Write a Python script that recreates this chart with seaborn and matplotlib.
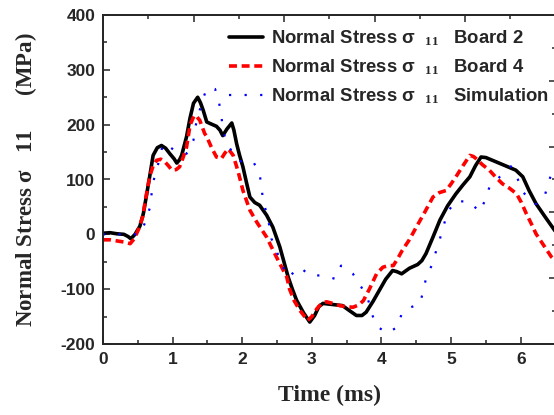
import numpy as np
import pandas as pd
import matplotlib
matplotlib.use("Agg")
import matplotlib.pyplot as plt
from matplotlib.ticker import MultipleLocator, NullFormatter, FixedLocator
import seaborn as sns

# ---------------- data ----------------
t_board2 = [0, 0.1, 0.2, 0.3, 0.36, 0.4, 0.46, 0.53, 0.58, 0.63, 0.67, 0.72, 0.78, 0.84, 0.9, 0.96,
            1.02, 1.06, 1.1, 1.13, 1.2, 1.25, 1.3, 1.36, 1.4, 1.44, 1.49, 1.54, 1.63, 1.68, 1.72, 1.78,
            1.85, 1.88, 1.92, 1.96, 2.01, 2.06, 2.11, 2.18, 2.25, 2.35, 2.44, 2.54, 2.66, 2.72, 2.78,
            2.88, 2.97, 3.04, 3.1, 3.16, 3.3, 3.44, 3.55, 3.64, 3.72, 3.78, 3.88, 3.97, 4.06, 4.16,
            4.22, 4.29, 4.4, 4.52, 4.58, 4.64, 4.74, 4.84, 4.95, 5.07, 5.17, 5.27, 5.35, 5.43, 5.5,
            5.65, 5.8, 5.93, 6.03, 6.12, 6.22, 6.35, 6.5]
s_board2 = [2, 3, 1, 0, -4, -8, 0, 15, 38, 75, 105, 144, 158, 162, 157, 147,
            138, 130, 136, 144, 178, 212, 239, 250, 240, 226, 205, 202, 197, 190, 180, 192,
            203, 190, 165, 145, 123, 95, 68, 58, 53, 35, 13, -23, -78, -100, -120,
            -143, -160, -148, -132, -126, -128, -130, -140, -148, -148, -142, -122, -102, -82, -66,
            -68, -72, -62, -55, -48, -35, -5, 26, 52, 74, 90, 105, 125, 141, 140,
            132, 124, 117, 105, 80, 56, 32, 5]

t_board4 = [0, 0.1, 0.2, 0.3, 0.39, 0.45, 0.52, 0.57, 0.62, 0.67, 0.72, 0.77, 0.83, 0.89, 0.94, 0.99,
            1.05, 1.1, 1.15, 1.2, 1.25, 1.31, 1.35, 1.39, 1.46, 1.49, 1.56, 1.63, 1.7, 1.75, 1.8,
            1.87, 1.94, 2.01, 2.11, 2.21, 2.35, 2.49, 2.64, 2.68, 2.75, 2.83, 2.94, 3.0, 3.07, 3.14,
            3.21, 3.3, 3.4, 3.5, 3.59, 3.67, 3.74, 3.83, 3.93, 4.02, 4.1, 4.17, 4.23, 4.3, 4.4, 4.5,
            4.62, 4.74, 4.83, 4.93, 5.0, 5.07, 5.17, 5.27, 5.32, 5.36, 5.45, 5.55, 5.65, 5.74, 5.84,
            5.94, 6.01, 6.08, 6.15, 6.22, 6.33, 6.44, 6.5]
s_board4 = [-10, -10, -12, -14, -17, -8, 12, 32, 70, 105, 125, 135, 137, 132, 125, 117,
            118, 123, 140, 159, 199, 217, 214, 208, 184, 178, 158, 141, 138, 148, 156,
            144, 115, 80, 44, 22, -5, -41, -78, -100, -122, -139, -157, -150, -136, -126,
            -123, -126, -130, -132, -133, -129, -121, -99, -72, -60, -57, -57, -45, -29, -10, 13,
            40, 68, 76, 80, 92, 105, 125, 144, 142, 138, 127, 117, 103, 92, 84,
            74, 58, 38, 20, 1, -20, -41, -48]

t_sim = [0, 0.2, 0.4, 0.53, 0.6, 0.67, 0.72, 0.82, 0.86, 0.95, 1.03, 1.12, 1.2, 1.3, 1.32, 1.42,
         1.49, 1.61, 1.66, 1.7, 1.72, 1.77, 1.88, 1.99, 2.16, 2.25, 2.3, 2.35, 2.4, 2.42, 2.49,
         2.56, 2.66, 2.83, 2.97, 3.16, 3.33, 3.42, 3.59, 3.71, 3.81, 3.86, 3.93, 4.09, 4.24, 4.29,
         4.4, 4.55, 4.6, 4.64, 4.72, 4.84, 4.95, 5.07, 5.27, 5.41, 5.5, 5.55, 5.7, 5.86, 5.96,
         6.03, 6.22, 6.34, 6.41, 6.5]
s_sim = [0, 0, 0, 0, 20, 47, 95, 141, 165, 160, 153, 150, 147, 172, 193, 241,
         266, 265, 245, 217, 193, 168, 145, 132, 132, 111, 62, 38, 10, -8, -29,
         -53, -78, -60, -75, -75, -81, -57, -72, -96, -120, -144, -168, -180, -168, -144,
         -134, -127, -104, -80, -57, -8, 41, 61, 59, 41, 65, 86, 105, 124, 100,
         77, 55, 68, 99, 130]

x_ticks = [0, 1, 2, 3, 4, 5, 6]
y_ticks = [-200, -100, 0, 100, 200, 300, 400]

# ---------------- style ----------------
sns.set_style("ticks")
plt.rcParams['font.family'] = ['Liberation Sans', 'DejaVu Sans']
plt.rcParams['font.weight'] = 'bold'
plt.rcParams['mathtext.fontset'] = 'custom'
plt.rcParams['mathtext.rm'] = 'Liberation Serif'
plt.rcParams['mathtext.it'] = 'Liberation Serif:italic'
plt.rcParams['mathtext.bf'] = 'Liberation Serif:bold'

fig = plt.figure(figsize=(5.54, 4.15), dpi=100)
ax = fig.add_axes([103/554, 71/415, 452.5/554, 329/415])

df2 = pd.DataFrame({"t": t_board2, "s": s_board2})
df4 = pd.DataFrame({"t": t_board4, "s": s_board4})
dfs = pd.DataFrame({"t": t_sim, "s": s_sim})

sns.lineplot(data=df2, x="t", y="s", ax=ax, color="black", lw=2.6, sort=False,
             estimator=None, label=r"Normal Stress σ  $_{\mathrm{11}}$   Board 2")
sns.lineplot(data=df4, x="t", y="s", ax=ax, color="#ff0000", lw=2.6, sort=False,
             estimator=None, label=r"Normal Stress σ  $_{\mathrm{11}}$   Board 4")
sns.lineplot(data=dfs, x="t", y="s", ax=ax, color="#0000ff", lw=1.6, sort=False,
             estimator=None, label=r"Normal Stress σ  $_{\mathrm{11}}$   Simulation")
lines = ax.get_lines()
lines[1].set_dashes((2.2, 1.3))
lines[2].set_dashes((1, 6))

ax.set_xlim(0, 6.5)
ax.set_ylim(-200, 400)
ax.xaxis.set_major_locator(FixedLocator(x_ticks))
ax.yaxis.set_major_locator(FixedLocator(y_ticks))
ax.xaxis.set_minor_locator(MultipleLocator(0.5))
ax.yaxis.set_minor_locator(MultipleLocator(50))
ax.set_xticklabels([str(v) for v in x_ticks])
ax.set_yticklabels([str(v) for v in y_ticks])
ax.tick_params(which='major', direction='in', length=5, width=1.1, labelsize=12.5, pad=5.5)
ax.tick_params(which='minor', direction='in', length=2.6, width=1.1)
for sp in ax.spines.values():
    sp.set_linewidth(1.1)
    sp.set_visible(True)

# top and right secondary scales (no labels)
axt = ax.twiny()
axt.set_xlim(0, 10)
axt.xaxis.set_major_locator(FixedLocator([2, 4, 6, 8]))
axt.xaxis.set_minor_locator(FixedLocator([1, 3, 5, 7, 9]))
axt.xaxis.set_major_formatter(NullFormatter())
axt.tick_params(which='major', direction='in', length=5, width=1.1)
axt.tick_params(which='minor', direction='in', length=3, width=1.1)
axr = ax.twinx()
axr.set_ylim(0, 10)
axr.yaxis.set_major_locator(FixedLocator([2, 4, 6, 8]))
axr.yaxis.set_minor_locator(FixedLocator([1, 3, 5, 7, 9]))
axr.yaxis.set_major_formatter(NullFormatter())
axr.tick_params(which='major', direction='in', length=5, width=1.1)
axr.tick_params(which='minor', direction='in', length=3, width=1.1)
for a in (axt, axr):
    for sp in a.spines.values():
        sp.set_linewidth(1.1)

ax.set_xlabel("Time (ms)", family=['Liberation Serif'], fontsize=17, fontweight='bold', va='top')
ax.set_ylabel(r"Normal Stress $\mathrm{σ}$   $\mathrm{11}$      (MPa)", family=['Liberation Serif'],
              fontsize=16.5, fontweight='bold', va='center')
ax.xaxis.set_label_coords(0.5, -0.125)
ax.yaxis.set_label_coords(-0.17, 0.5)

leg = ax.legend(loc='upper left', bbox_to_anchor=(0.262, 0.982), frameon=False,
                fontsize=13.3, handlelength=1.85, handletextpad=0.42, labelspacing=0.5,
                borderaxespad=0.0)
for txt in leg.get_texts():
    txt.set_fontweight('bold')

fig.savefig("out.png", dpi=100)
